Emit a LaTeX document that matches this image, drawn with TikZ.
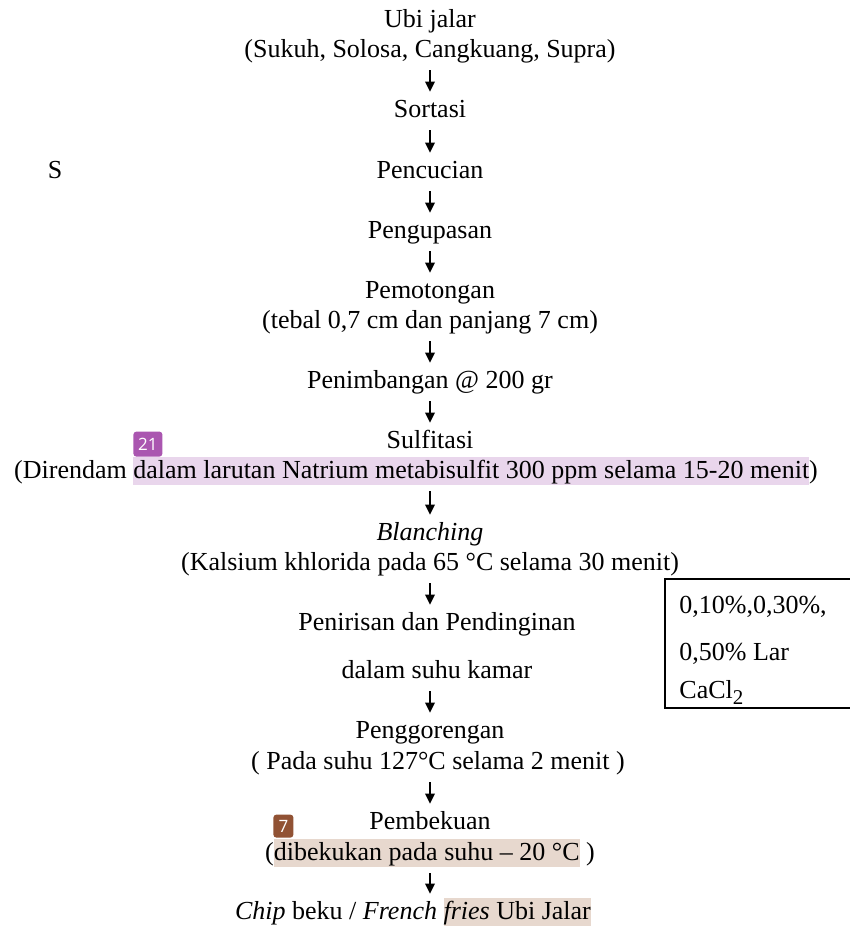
\documentclass[tikz,border=0pt]{standalone}
\usepackage{fontspec}
\setmainfont{Liberation Serif}
\newfontfamily\badgefont{Open Sans}
\usetikzlibrary{arrows.meta, positioning}

\definecolor{hlpurple}{RGB}{233,214,236}
\definecolor{badgepurple}{RGB}{170,86,176}
\definecolor{hlbrown}{RGB}{231,216,206}
\definecolor{badgebrown}{RGB}{145,82,52}

\newcommand{\mainsize}{\fontsize{13}{15.5}\selectfont}
\newcommand{\hlmark}[2]{{\setlength{\fboxsep}{0pt}\colorbox{#1}{\rule[-3.5pt]{0pt}{14pt}#2}}}

\tikzset{
  stepline/.style = {inner sep=0pt, text height=8.5pt, text depth=2.5pt, font=\mainsize},
  flow/.style     = {-{Triangle[length=5pt, width=4.8pt]}, line width=0.8pt,
                     shorten <=4pt, shorten >=4pt},
  badge/.style    = {rounded corners=1.5pt, inner sep=0pt, text=white,
                     font=\badgefont\fontsize{8.5}{9}\selectfont}
}

\begin{document}
\begin{tikzpicture}[x=0.5pt, y=-0.5pt, on grid]
  \useasboundingbox (0,0) rectangle (850,926);

  \node[stepline, anchor=base] (n0a) at (430,27) {Ubi jalar};
  \node[stepline] (n0b) [below=15pt of n0a] {(Sukuh, Solosa, Cangkuang, Supra)};
  \node[stepline] (n1) [below=30pt of n0b] {Sortasi};
  \node[stepline] (n2) [below=30.5pt of n1] {Pencucian};
  \node[stepline] (n3) [below=30pt of n2] {Pengupasan};
  \node[stepline] (n4a) [below=30pt of n3] {Pemotongan};
  \node[stepline] (n4b) [below=15pt of n4a] {(tebal 0,7 cm dan panjang 7 cm)};
  \node[stepline] (n5) [below=30pt of n4b] {Penimbangan @ 200 gr};
  \node[stepline] (n6a) [below=30pt of n5] {Sulfitasi};
  \node[stepline] (n6b) [below left=15pt and 7pt of n6a]
    {(Direndam \hlmark{hlpurple}{dalam larutan Natrium metabisulfit 300 ppm selama 15-20 menit})};
  \node[stepline] (n7a) [below right=31pt and 7pt of n6b] {\textit{Blanching}};
  \node[stepline] (n7b) [below=15pt of n7a] {(Kalsium khlorida pada 65 °C selama 30 menit)};
  \node[stepline] (n8a) [below right=30pt and 3.5pt of n7b] {Penirisan dan Pendinginan};
  \node[stepline] (n8b) [below=24pt of n8a] {dalam suhu kamar};
  \node[stepline] (n9a) [below left=30pt and 3.5pt of n8b] {Penggorengan};
  \node[stepline] (n9b) [below right=15.5pt and 4pt of n9a] {( Pada suhu 127°C selama 2 menit )};
  \node[stepline] (n10a) [below left=30pt and 4pt of n9b] {Pembekuan};
  \node[stepline] (n10b) [below=15.5pt of n10a]
    {(\hlmark{hlbrown}{dibekukan pada suhu – 20 °C} )};
  \node[stepline] (n11) [below left=29.5pt and 8.5pt of n10b]
    {\textit{Chip} beku / \textit{French} \hlmark{hlbrown}{\textit{fries} Ubi Jalar}};

  \node[stepline, anchor=base] (smark) at (55,178) {S};

  % CaCl2 box
  \node[draw, line width=1pt, minimum width=103pt, minimum height=64.5pt,
        anchor=north west] (cbox) at (664,578) {};
  \node[stepline, anchor=base west] (c1) at ([shift={(15,35)}]cbox.north west) {0,10\%,0,30\%,};
  \node[stepline, anchor=base west] (c2) at ([yshift=-23.5pt]c1.base west) {0,50\% Lar};
  \node[stepline, anchor=base west] (c3) at ([yshift=-19pt]c2.base west)
    {CaCl\raisebox{-3pt}{\fontsize{10.5}{12}\selectfont 2}};

  % comment badges
  \node[badge, fill=badgepurple, minimum width=14.5pt, minimum height=12.5pt,
        anchor=south west] (b21) at (133,457) {21};
  \node[badge, fill=badgebrown, minimum width=10pt, minimum height=11.5pt,
        anchor=south west] (b7) at (273,838) {7};

  \path[flow]
    (n0b) edge (n1)
    (n1) edge (n2)
    (n2) edge (n3)
    (n3) edge (n4a)
    (n4b) edge (n5)
    (n5) edge (n6a)
    (n7a |- n6b.south) edge (n7a)
    (n7b) edge (n7b |- n8a.north)
    (n9a |- n8b.south) edge (n9a)
    (n10a |- n9b.south) edge (n10a)
    (n10b) edge (n10b |- n11.north);
\end{tikzpicture}
\end{document}
